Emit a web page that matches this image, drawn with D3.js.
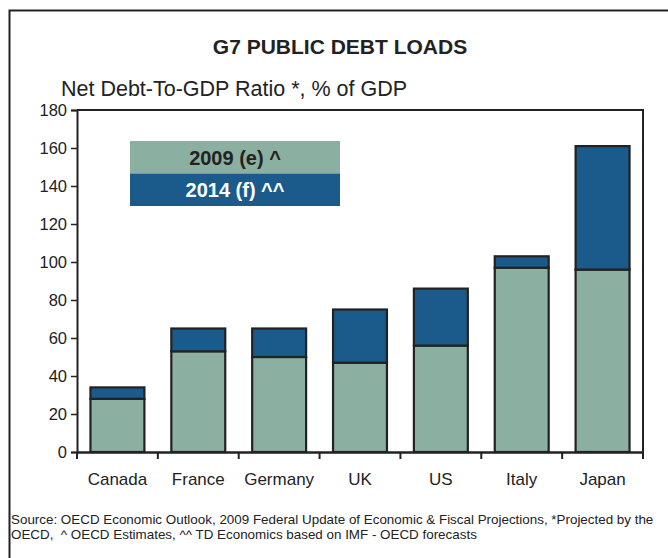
<!DOCTYPE html>
<html>
<head>
<meta charset="utf-8">
<script src="https://cdn.jsdelivr.net/npm/d3@7"></script>
<style>
  html, body { margin: 0; padding: 0; background: #fff; }
  svg { display: block; font-family: "Liberation Sans", Arial, sans-serif; }
</style>
</head>
<body>
<svg id="chart" width="668" height="558"></svg>
<script>
// G7 net debt-to-GDP ratios
const countries = ["Canada", "France", "Germany", "UK", "US", "Italy", "Japan"];
const debt2009 = [28, 53, 50, 47, 56, 97, 96];
const debt2014 = [34, 65, 65, 75, 86, 103, 161];
const yTicks = [0, 20, 40, 60, 80, 100, 120, 140, 160, 180];
const seriesLabels = ["2009 (e) ^", "2014 (f) ^^"];

const title = "G7 PUBLIC DEBT LOADS";
const subtitle = "Net Debt-To-GDP Ratio *, % of GDP";
const sourceLines = [
  "Source: OECD Economic Outlook, 2009 Federal Update of Economic & Fiscal Projections, *Projected by the",
  "OECD,  ^ OECD Estimates, ^^ TD Economics based on IMF - OECD forecasts"
];

const GREEN = "#8bafa0";
const BLUE = "#1b5b8b";
const INK = "#222";

const svg = d3.select("#chart");

// outer frame (top and left rules)
svg.append("path")
  .attr("d", "M9.5,558 V10.5 H668")
  .attr("fill", "none").attr("stroke", INK).attr("stroke-width", 2);

svg.append("text")
  .attr("x", 340).attr("y", 54)
  .attr("text-anchor", "middle")
  .attr("font-size", 21).attr("font-weight", "bold").attr("fill", INK)
  .text(title);

svg.append("text")
  .attr("x", 61).attr("y", 96)
  .attr("font-size", 21.5).attr("fill", INK)
  .text(subtitle);

const plot = { left: 77, right: 643, top: 110, bottom: 452 };

const x = d3.scaleBand()
  .domain(countries)
  .range([plot.left, plot.right])
  .paddingInner(0.333)
  .paddingOuter(0.1665);

const y = d3.scaleLinear()
  .domain([0, 180])
  .range([plot.bottom, plot.top]);

// plot frame: top and right edges
svg.append("path")
  .attr("d", `M${plot.left},${plot.top} H${plot.right} V${plot.bottom}`)
  .attr("fill", "none").attr("stroke", INK).attr("stroke-width", 2);

// stacked bars: 2009 level, then the increase up to 2014
const rows = countries.map((c, i) => ({ c, a: debt2009[i], b: debt2014[i] }));

const g = svg.append("g");
g.selectAll("rect.lo").data(rows).join("rect")
  .attr("class", "lo")
  .attr("x", d => x(d.c))
  .attr("width", x.bandwidth())
  .attr("y", d => y(d.a))
  .attr("height", d => y(0) - y(d.a))
  .attr("fill", GREEN).attr("stroke", INK).attr("stroke-width", 2.2);

g.selectAll("rect.hi").data(rows).join("rect")
  .attr("class", "hi")
  .attr("x", d => x(d.c))
  .attr("width", x.bandwidth())
  .attr("y", d => y(d.b))
  .attr("height", d => y(d.a) - y(d.b))
  .attr("fill", BLUE).attr("stroke", INK).attr("stroke-width", 2.2);

// y axis
const yAxis = svg.append("g")
  .attr("transform", `translate(${plot.left},0)`)
  .call(d3.axisLeft(y).tickValues(yTicks).tickSize(6).tickPadding(4));
yAxis.select(".domain").attr("stroke", INK).attr("stroke-width", 2);
yAxis.selectAll(".tick line").attr("stroke", INK).attr("stroke-width", 1.5);
yAxis.selectAll(".tick text")
  .attr("font-size", 16.5).attr("fill", INK)
  .attr("font-family", "'Liberation Sans', Arial, sans-serif");

// x axis: labels centred in bands, ticks on band boundaries
const xAxis = svg.append("g")
  .attr("transform", `translate(0,${plot.bottom})`)
  .call(d3.axisBottom(x).tickSize(0).tickPadding(21));
xAxis.select(".domain").attr("stroke", INK).attr("stroke-width", 2.5);
xAxis.selectAll(".tick text")
  .attr("font-size", 17).attr("fill", INK)
  .attr("font-family", "'Liberation Sans', Arial, sans-serif");

const bounds = d3.range(countries.length + 1).map(i => plot.left + i * x.step());
xAxis.selectAll("line.sep").data(bounds).join("line")
  .attr("class", "sep")
  .attr("x1", d => d).attr("x2", d => d)
  .attr("y1", 0).attr("y2", 7)
  .attr("stroke", INK).attr("stroke-width", 2);

// legend
const legend = svg.append("g").attr("transform", "translate(130,141)");
const legendFill = [GREEN, BLUE];
const legendText = [INK, "#fff"];
seriesLabels.forEach((lab, i) => {
  legend.append("rect")
    .attr("x", 0).attr("y", i * 32.5)
    .attr("width", 210).attr("height", 32.5)
    .attr("fill", legendFill[i]);
  legend.append("text")
    .attr("x", 105).attr("y", i * 32.5 + 23.5)
    .attr("text-anchor", "middle")
    .attr("font-size", 20).attr("font-weight", "bold")
    .attr("fill", legendText[i])
    .text(lab);
});

// source notes (keep the double space after "OECD,")
svg.append("g").selectAll("text").data(sourceLines).join("text")
  .attr("x", 11).attr("y", (d, i) => 523.5 + i * 15)
  .attr("font-size", 13.4).attr("fill", INK)
  .style("white-space", "pre")
  .text(d => d);
</script>
</body>
</html>
